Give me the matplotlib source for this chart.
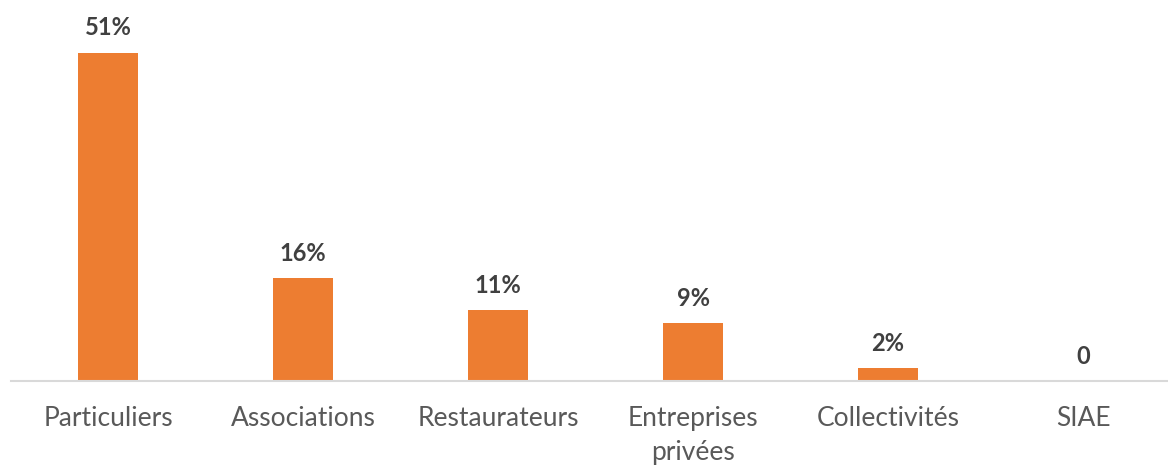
import matplotlib.pyplot as plt

# Data
categories = ['Particuliers', 'Associations', 'Restaurateurs', 'Entreprises\nprivées', 'Collectivités', 'SIAE']
values = [51, 16, 11, 9, 2, 0]
value_labels = ['51%', '16%', '11%', '9%', '2%', '0']

plt.rcParams['font.family'] = ['Lato', 'DejaVu Sans']

fig = plt.figure(figsize=(11.68, 4.66), dpi=100)
ax = fig.add_axes([10.5 / 1168, 85 / 466, 1170 / 1168, 381 / 466])

x = range(len(categories))
ax.bar(x, values, width=0.31, color='#ED7D31')
ax.set_xlim(-0.5, 5.5)
ax.set_ylim(0, 59.2)

for xi, v, lab in zip(x, values, value_labels):
    ax.annotate(lab, (xi, v), xytext=(0, 18), textcoords='offset points',
                ha='center', va='center', fontsize=17, fontweight='bold', color='#404040')

ax.set_xticks(list(x))
ax.set_xticklabels(categories, fontsize=19, color='#595959', linespacing=1.45)
ax.tick_params(axis='x', length=0, pad=18)
ax.set_yticks([])
for s in ['top', 'right', 'left']:
    ax.spines[s].set_visible(False)
ax.spines['bottom'].set_color('#D9D9D9')
ax.spines['bottom'].set_linewidth(1.5)

fig.savefig('out.png', dpi=100)
